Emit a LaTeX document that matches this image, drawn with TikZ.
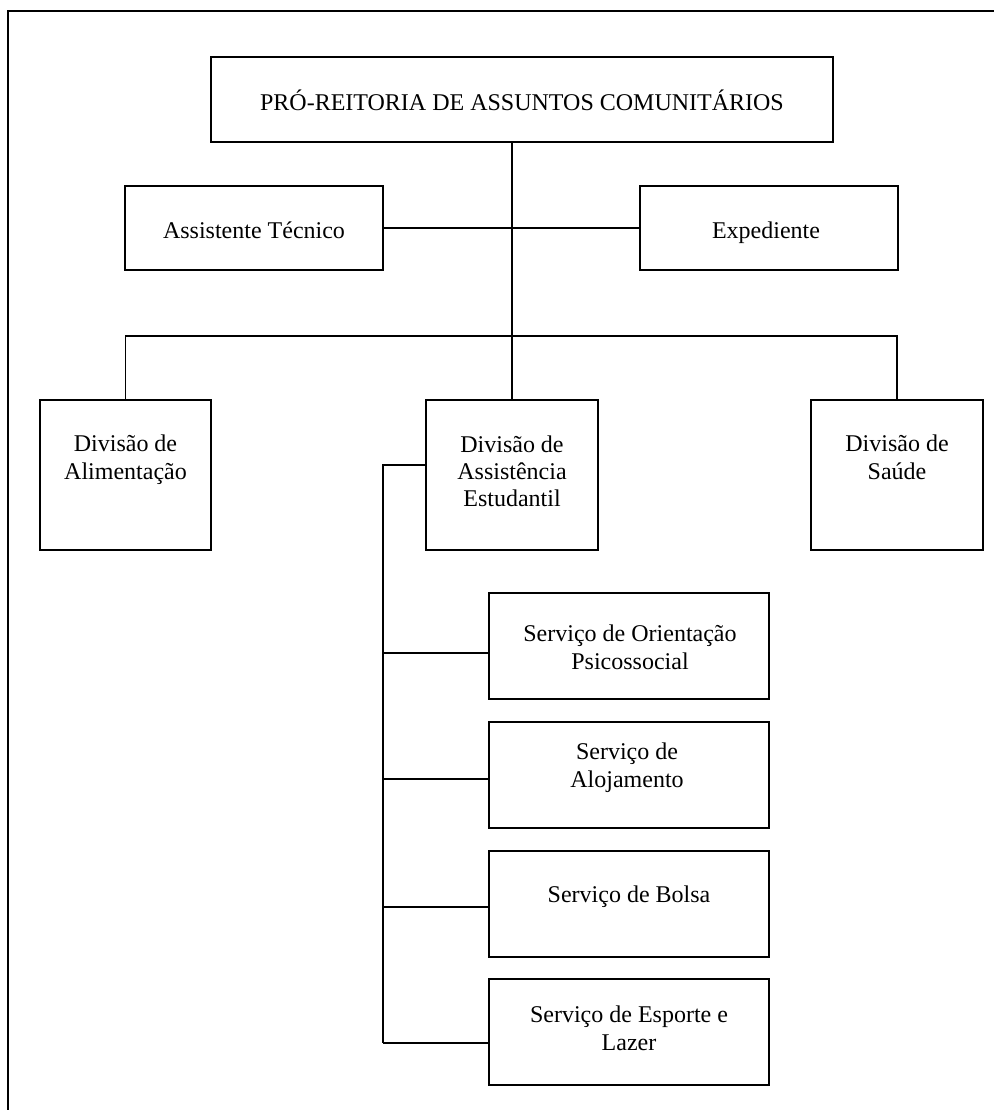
\documentclass[tikz,border=0pt]{standalone}
\usepackage{fontspec}
\setmainfont{Liberation Serif}
\usetikzlibrary{fit}
\begin{document}
\begin{tikzpicture}[x=0.75pt, y=-0.75pt, line width=1.1pt,
  box/.style={draw, rectangle, inner sep=0pt},
  % multi-line labels are anchored at the baseline of their last line
  lbl/.style={font=\fontsize{18}{20.5}\selectfont, align=center, inner sep=0pt, anchor=base}]
  \useasboundingbox (0,0) rectangle (994,1110);
  % page frame
  \draw (8,1110) -- (8,11) -- (994,11);

  % top level
  \node[box, fit={(211,57) (833,142)}] (top) {};
  \node[lbl] (topt) at (522,110) {PRÓ-REITORIA DE ASSUNTOS COMUNITÁRIOS};

  % staff units
  \node[box, fit={(125,186) (383,270)}] (at) {};
  \node[lbl] (att) at (254,238) {Assistente Técnico};
  \node[box, fit={(640,186) (898,270)}] (exp) {};
  \node[lbl] (expt) at (766,238) {Expediente};

  % divisions
  \node[box, fit={(40,400) (211,550)}] (ali) {};
  \node[lbl] (alit) at (125.5,479.3) {Divisão de\\Alimentação};
  \node[box, fit={(426,400) (598,550)}] (ase) {};
  \node[lbl] (aset) at (512,506.7) {Divisão de\\Assistência\\Estudantil};
  \node[box, fit={(811,400) (983,550)}] (sau) {};
  \node[lbl] (saut) at (897,479.3) {Divisão de\\Saúde};

  % services
  \node[box, fit={(489,593) (769,699)}] (s1) {};
  \node[lbl] (s1t) at (630,669.3) {Serviço de Orientação\\Psicossocial};
  \node[box, fit={(489,722) (769,828)}] (s2) {};
  \node[lbl] (s2t) at (627,787.3) {Serviço de\\Alojamento};
  \node[box, fit={(489,851) (769,957)}] (s3) {};
  \node[lbl] (s3t) at (629,902) {Serviço de Bolsa};
  \node[box, fit={(489,979) (769,1085)}] (s4) {};
  \node[lbl] (s4t) at (629,1050.3) {Serviço de Esporte e\\Lazer};

  % junction points
  \coordinate (bar) at (512,336);
  \coordinate (spine) at (383,465);
  \coordinate (j1) at (383,653);
  \coordinate (j2) at (383,779);
  \coordinate (j3) at (383,907);
  \coordinate (j4) at (383,1043);

  % connectors
  \draw (ase.north) -- (ase.north |- top.south);
  \draw (at.east) -- (exp.west);
  \draw (ali.north) |- (bar) -| (sau.north);
  \draw (ase.west |- spine) -- (spine) -- (j4);
  \draw (j1) -- (j1 -| s1.west);
  \draw (j2) -- (j2 -| s2.west);
  \draw (j3) -- (j3 -| s3.west);
  \draw (j4) -- (j4 -| s4.west);
\end{tikzpicture}
\end{document}
